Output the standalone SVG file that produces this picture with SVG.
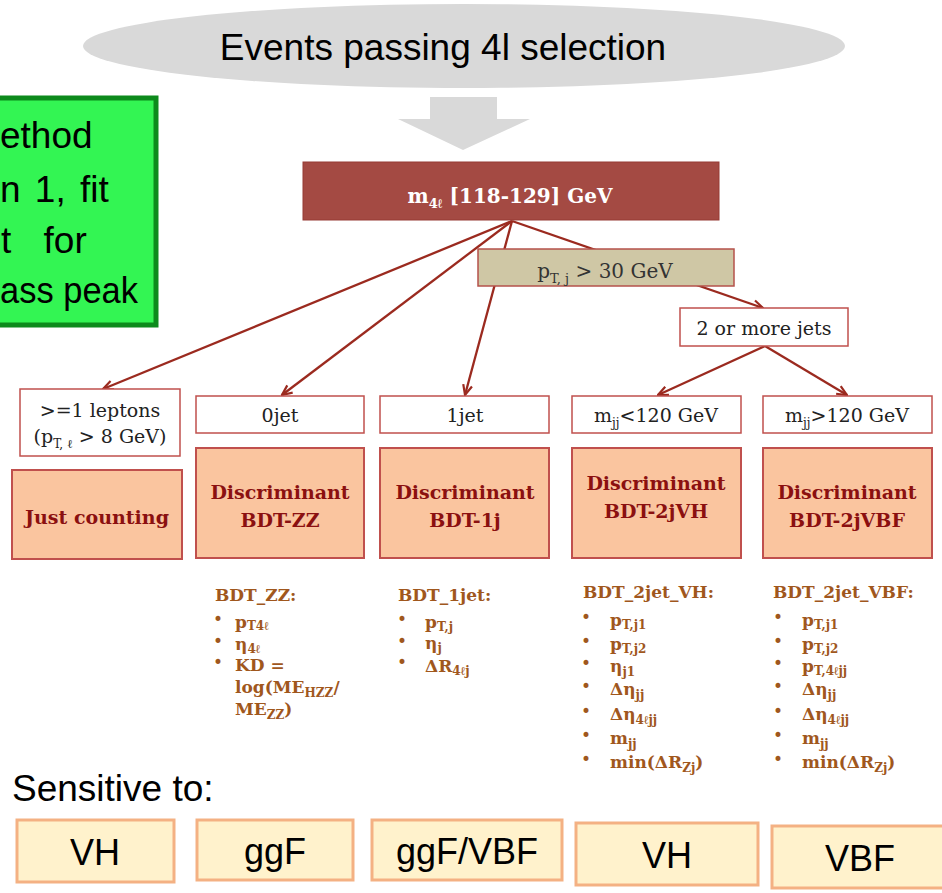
<svg xmlns="http://www.w3.org/2000/svg" width="942" height="893" viewBox="0 0 942 893">
<defs>
<marker id="arr" viewBox="0 0 12 12" refX="11" refY="6" markerWidth="12" markerHeight="12" markerUnits="userSpaceOnUse" orient="auto">
<path d="M1,1.5 L11,6 L1,10.5" fill="none" stroke="#9b2a1f" stroke-width="2.2"/>
</marker>
</defs>
<style>
.conn{stroke:#9b2a1f;stroke-width:2.3;fill:none;marker-end:url(#arr)}
.lbl{fill:#ffffff;stroke:#c0504d;stroke-width:1.5}
.lt{font-family:"DejaVu Serif",serif;font-size:19px;fill:#222222;text-anchor:middle}
.ob{fill:#fac59f;stroke:#c0504d;stroke-width:2}
.ot{font-family:"DejaVu Serif",serif;font-weight:bold;font-size:19px;fill:#8b1010;text-anchor:middle}
.li{font-family:"DejaVu Serif",serif;font-weight:bold;font-size:17px;fill:#a0571d}
.bu{font-family:"DejaVu Sans",sans-serif;font-size:17px;fill:#a0571d}
.sb{font-size:12px}
.sens{fill:#fff2cc;stroke:#f4b183;stroke-width:3}
.st{font-family:"Liberation Sans",Arial,sans-serif;font-size:36px;fill:#000000;text-anchor:middle}
.gt{font-family:"Liberation Sans",Arial,sans-serif;font-size:37px;fill:#000000}
</style>
<rect width="942" height="893" fill="#ffffff"/>

<g id="connectors">
<line class="conn" x1="512" y1="221" x2="103" y2="389"/>
<line class="conn" x1="512" y1="221" x2="282" y2="395"/>
<line class="conn" x1="512" y1="221" x2="465" y2="395"/>
<line class="conn" x1="512" y1="221" x2="763" y2="308"/>
<line class="conn" x1="765" y1="346" x2="658" y2="395"/>
<line class="conn" x1="765" y1="346" x2="847" y2="395"/>
</g>

<g id="events">
<ellipse cx="464" cy="46" rx="381" ry="42" fill="#d9d9d9"/>
<text x="443" y="60" class="gt" text-anchor="middle">Events passing 4l selection</text>
</g>
<g id="down-arrow">
<polygon points="430,97 497,97 497,119 530,119 463,150 398,119 430,119" fill="#d9d9d9"/>
</g>

<g id="method-note">
<rect x="-5" y="98" width="161" height="227" fill="#33f553" stroke="#0d8a1c" stroke-width="5"/>
<text x="0" y="148" class="gt">ethod</text>
<text x="0" y="202" class="gt" word-spacing="4">n 1, fit</text>
<text x="1" y="253" class="gt" word-spacing="22">t for</text>
<text x="0" y="303" class="gt" textLength="138" lengthAdjust="spacingAndGlyphs">ass peak</text>
</g>

<g id="m4l">
<rect x="303" y="162" width="416" height="58" fill="#a44a43" stroke="#963b35" stroke-width="1"/>
<text x="510" y="203" font-family="DejaVu Serif, serif" font-weight="bold" font-size="20" fill="#ffffff" text-anchor="middle">m<tspan font-size="13" dy="5">4ℓ</tspan><tspan dy="-5"> [118-129] GeV</tspan></text>
</g>

<g id="ptj">
<rect x="478" y="249" width="256" height="37" fill="#cfc7a5" stroke="#b5524b" stroke-width="1.5"/>
<text x="605" y="278" font-family="DejaVu Serif, serif" font-size="20" fill="#333333" text-anchor="middle">p<tspan font-size="13" dy="5">T, j</tspan><tspan dy="-5"> &gt; 30 GeV</tspan></text>
</g>

<g id="twojets">
<rect x="680" y="308" width="168" height="38" class="lbl"/>
<text x="764" y="335" class="lt">2 or more jets</text>
</g>

<g id="leptons">
<rect x="20" y="389" width="160" height="67" class="lbl"/>
<text x="100" y="417" class="lt">&gt;=1 leptons</text>
<text x="100" y="443" class="lt">(p<tspan class="sb" dy="5">T, ℓ</tspan><tspan dy="-5"> &gt; 8 GeV)</tspan></text>
</g>
<g id="zerojet">
<rect x="196" y="396" width="168" height="37" class="lbl"/>
<text x="280" y="422" class="lt">0jet</text>
</g>
<g id="onejet">
<rect x="380" y="396" width="169" height="37" class="lbl"/>
<text x="465" y="422" class="lt">1jet</text>
</g>
<g id="mjj-low">
<rect x="572" y="396" width="169" height="37" class="lbl"/>
<text x="656" y="422" class="lt">m<tspan class="sb" dy="5">jj</tspan><tspan dy="-5">&lt;120 GeV</tspan></text>
</g>
<g id="mjj-high">
<rect x="763" y="396" width="169" height="37" class="lbl"/>
<text x="847" y="422" class="lt">m<tspan class="sb" dy="5">jj</tspan><tspan dy="-5">&gt;120 GeV</tspan></text>
</g>

<g id="just-counting">
<rect x="12" y="470" width="170" height="89" class="ob"/>
<text x="97" y="524" class="ot">Just counting</text>
</g>
<g id="bdt-zz">
<rect x="196" y="448" width="168" height="110" class="ob"/>
<text x="280" y="499" class="ot">Discriminant</text>
<text x="280" y="527" class="ot">BDT-ZZ</text>
</g>
<g id="bdt-1j">
<rect x="380" y="448" width="169" height="110" class="ob"/>
<text x="465" y="499" class="ot">Discriminant</text>
<text x="465" y="527" class="ot">BDT-1j</text>
</g>
<g id="bdt-2jvh">
<rect x="572" y="448" width="169" height="110" class="ob"/>
<text x="656" y="490" class="ot">Discriminant</text>
<text x="656" y="518" class="ot">BDT-2jVH</text>
</g>
<g id="bdt-2jvbf">
<rect x="763" y="448" width="169" height="110" class="ob"/>
<text x="847" y="499" class="ot">Discriminant</text>
<text x="847" y="527" class="ot">BDT-2jVBF</text>
</g>

<g id="list-zz">
<text x="215" y="601" class="li">BDT_ZZ:</text>
<text x="213" y="625" class="bu">•</text>
<text x="213" y="647" class="bu">•</text>
<text x="213" y="668" class="bu">•</text>
<text x="235" y="628" class="li">p<tspan class="sb" dy="2">T4ℓ</tspan></text>
<text x="235" y="650" class="li">η<tspan class="sb" dy="3">4ℓ</tspan></text>
<text x="235" y="671" class="li">KD =</text>
<text x="235" y="693" class="li">log(ME<tspan class="sb" dy="4">HZZ</tspan><tspan dy="-4">/</tspan></text>
<text x="235" y="715" class="li">ME<tspan class="sb" dy="4">ZZ</tspan><tspan dy="-4">)</tspan></text>
</g>

<g id="list-1jet">
<text x="398" y="601" class="li">BDT_1jet:</text>
<text x="397" y="625" class="bu">•</text>
<text x="397" y="647" class="bu">•</text>
<text x="397" y="668" class="bu">•</text>
<text x="425" y="628" class="li">p<tspan class="sb" dy="3">T,j</tspan></text>
<text x="425" y="649" class="li">η<tspan class="sb" dy="3">j</tspan></text>
<text x="425" y="672" class="li">ΔR<tspan class="sb" dy="3">4ℓj</tspan></text>
</g>

<g id="list-2jvh">
<text x="583" y="598" class="li">BDT_2jet_VH:</text>
<text x="581" y="623" class="bu">•</text>
<text x="581" y="647" class="bu">•</text>
<text x="581" y="669" class="bu">•</text>
<text x="581" y="692" class="bu">•</text>
<text x="581" y="717" class="bu">•</text>
<text x="581" y="741" class="bu">•</text>
<text x="581" y="765" class="bu">•</text>
<text x="610" y="626" class="li">p<tspan class="sb" dy="3">T,j1</tspan></text>
<text x="610" y="650" class="li">p<tspan class="sb" dy="3">T,j2</tspan></text>
<text x="610" y="672" class="li">η<tspan class="sb" dy="4">j1</tspan></text>
<text x="610" y="695" class="li">Δη<tspan class="sb" dy="4">jj</tspan></text>
<text x="610" y="720" class="li">Δη<tspan class="sb" dy="4">4ℓjj</tspan></text>
<text x="610" y="744" class="li">m<tspan class="sb" dy="4">jj</tspan></text>
<text x="610" y="768" class="li">min(ΔR<tspan class="sb" dy="4">Zj</tspan><tspan dy="-4">)</tspan></text>
</g>

<g id="list-2jvbf">
<text x="773" y="598" class="li">BDT_2jet_VBF:</text>
<text x="773" y="623" class="bu">•</text>
<text x="773" y="647" class="bu">•</text>
<text x="773" y="669" class="bu">•</text>
<text x="773" y="692" class="bu">•</text>
<text x="773" y="717" class="bu">•</text>
<text x="773" y="741" class="bu">•</text>
<text x="773" y="765" class="bu">•</text>
<text x="802" y="626" class="li">p<tspan class="sb" dy="3">T,j1</tspan></text>
<text x="802" y="650" class="li">p<tspan class="sb" dy="3">T,j2</tspan></text>
<text x="802" y="672" class="li">p<tspan class="sb" dy="3">T,4ℓjj</tspan></text>
<text x="802" y="695" class="li">Δη<tspan class="sb" dy="4">jj</tspan></text>
<text x="802" y="720" class="li">Δη<tspan class="sb" dy="4">4ℓjj</tspan></text>
<text x="802" y="744" class="li">m<tspan class="sb" dy="4">jj</tspan></text>
<text x="802" y="768" class="li">min(ΔR<tspan class="sb" dy="4">Zj</tspan><tspan dy="-4">)</tspan></text>
</g>

<g id="sensitive-label">
<text x="12" y="801" class="gt">Sensitive to:</text>
</g>
<g id="sens-vh1">
<rect x="17" y="820" width="157" height="62" class="sens"/>
<text x="95" y="865" class="st">VH</text>
</g>
<g id="sens-ggf">
<rect x="197" y="820" width="156" height="60" class="sens"/>
<text x="275" y="864" class="st">ggF</text>
</g>
<g id="sens-ggfvbf">
<rect x="372" y="820" width="190" height="60" class="sens"/>
<text x="467" y="864" class="st">ggF/VBF</text>
</g>
<g id="sens-vh2">
<rect x="576" y="823" width="182" height="62" class="sens"/>
<text x="667" y="868" class="st">VH</text>
</g>
<g id="sens-vbf">
<rect x="772" y="826" width="172" height="62" class="sens"/>
<text x="860" y="871" class="st">VBF</text>
</g>
</svg>
